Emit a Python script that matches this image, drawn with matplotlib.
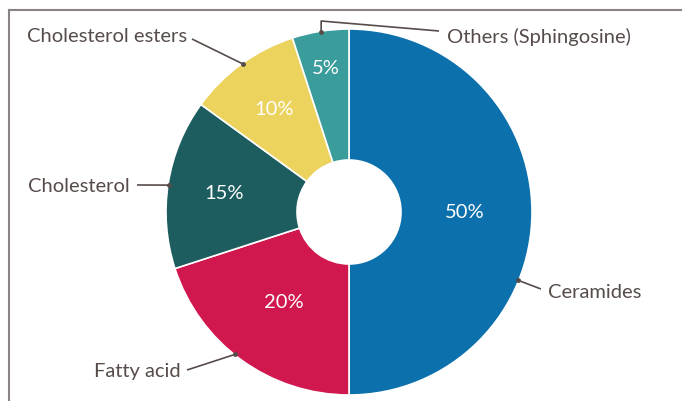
import numpy as np
import matplotlib.pyplot as plt

# data
labels = ["Ceramides", "Fatty acid", "Cholesterol", "Cholesterol esters", "Others (Sphingosine)"]
shares = [50, 20, 15, 10, 5]
colors = ["#0b70ab", "#d0184f", "#1d5d5f", "#ebd35d", "#3a9c9b"]

# layout (pixel space, y measured from top)
W, H = 682, 402
cx, cy, R, r_in = 349, 213, 183, 52
pct_r = [116, 111, 126, 128, 146]
anchor_ang = [-22, 231.4, 171.5, 125.6, 98.8]
text_pos = [(548, 293, "left"), (181, 372, "right"), (130, 187, "right"),
            (187, 36, "right"), (447, 37, "left")]
line_end = [(541, 290), (187, 371), (137, 186), (192, 40), (439, 32)]

txt_col = "#564c4a"
plt.rcParams['font.family'] = ['Lato', 'DejaVu Sans']

fig = plt.figure(figsize=(W / 100, H / 100), dpi=100)
ax = fig.add_axes([0, 0, 1, 1])

wedges, _ = ax.pie(shares, colors=colors, startangle=90, counterclock=False,
                   radius=R, center=(cx, H - cy),
                   wedgeprops=dict(width=R - r_in, edgecolor='white', linewidth=1.2))
ax.set_xlim(0, W)
ax.set_ylim(0, H)
ax.set_aspect('equal')
ax.axis('off')

# percentage labels
theta = 90
for s, pr in zip(shares, pct_r):
    mid = theta - s * 3.6 / 2
    theta -= s * 3.6
    a = np.deg2rad(mid)
    ax.text(cx + pr * np.cos(a), H - cy + pr * np.sin(a), f"{s}%",
            color="white", fontsize=14.5, ha="center", va="center")

# callouts
for i, lab in enumerate(labels):
    a = np.deg2rad(anchor_ang[i])
    px, py = cx + (R - 1) * np.cos(a), H - cy + (R - 1) * np.sin(a)
    ex, ey = line_end[i]
    if i == 4:
        xs, ys = [px, px, ex], [py, H - 22, H - ey]
    else:
        xs, ys = [px, ex], [py, H - ey]
    ax.plot(xs, ys, color=txt_col, lw=1.2, solid_capstyle='butt')
    ax.plot(px, py, 'o', color=txt_col, ms=2.5)
    tx, ty, ha = text_pos[i]
    ax.text(tx, H - ty, lab, color=txt_col, fontsize=14.5, ha=ha, va="center")

# frame lines (top and left)
ax.plot([9, W], [H - 10.5, H - 10.5], color="#8a8383", lw=1.5)
ax.plot([9, 9], [0, H - 10.5], color="#8a8383", lw=1.5)

fig.savefig("out.png", dpi=100)
